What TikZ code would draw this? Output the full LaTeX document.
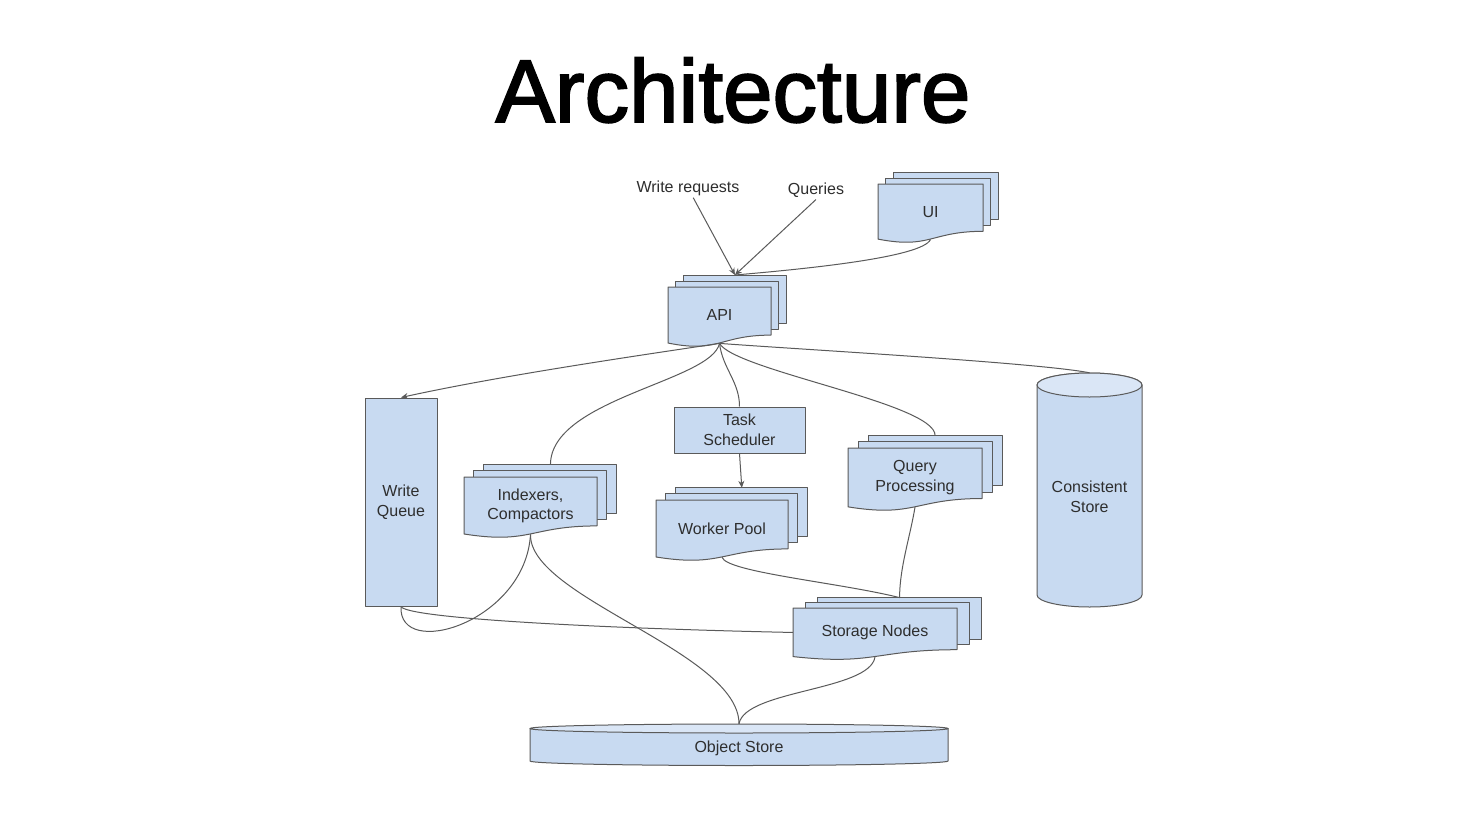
\documentclass[tikz,border=0pt]{standalone}
\usepackage{fontspec}
\setmainfont{Liberation Sans}
\newfontfamily\titlefont[FakeBold=2]{Liberation Sans}
\usetikzlibrary{arrows.meta,positioning,calc}
\definecolor{boxfill}{HTML}{C8DAF1}
\definecolor{capfill}{HTML}{DAE6F6}
\definecolor{edge}{HTML}{5A5A5A}
\definecolor{ink}{HTML}{2E2E2E}
\tikzset{shape line/.style={draw=edge,line width=1pt,line join=round},box text/.style={align=center,inner sep=0pt,text=ink,font=\fontsize{16}{19.5}\selectfont},box/.style={shape line,fill=boxfill,box text},label text/.style={text=ink,font=\fontsize{16}{19.5}\selectfont,inner sep=2pt},link/.style={draw=edge,line width=1pt},flow/.style={link,-{Stealth[length=7pt,width=6pt]}}}
% stacked documents: name, left, top, right, bottom, text
\newcommand\multidoc[6]{%
  \pgfmathsetmacro\mdW{#4-#2}\pgfmathsetmacro\mdH{#5-#3}%
  \pgfmathsetmacro\mdX{0.075*\mdW}\pgfmathsetmacro\mdY{0.1*\mdH}\pgfmathsetmacro\mdN{0.933*\mdH}%
  \foreach \k in {2,1}
    \draw[shape line,fill=boxfill] (#2+\k*\mdX,#3-\k*\mdY) rectangle (#4+\k*\mdX,#3+0.802*\mdH-\k*\mdY);
  \draw[shape line,fill=boxfill] (#2,#3) -- (#4,#3) -- (#4,#3+0.802*\mdH) .. controls (#2+0.5*\mdW,#3+0.802*\mdH) and (#2+0.5*\mdW,#3+1.107*\mdH) .. (#2,#3+0.934*\mdH) -- cycle;
  \node[box text,minimum width=\mdW pt,minimum height=\mdN pt,anchor=north] (#1) at (#2+0.5*\mdW,#3) {#6};
  \coordinate (#1-top) at (#2+0.5*\mdW+2*\mdX,#3-2*\mdY);
}
\begin{document}
\begin{tikzpicture}[x=1pt,y=-1pt]
\useasboundingbox[fill=white] (0,0) rectangle (1467,822);
\node[font=\titlefont\fontsize{89}{92}\selectfont,anchor=base] (title) at (733,122) {Architecture};
\node[label text] (wr) at (688,188) {Write requests};
\node[label text] (q) at (816,190) {Queries};
\multidoc{ui}{878}{184}{983}{243}{UI}
\multidoc{api}{668}{287}{771}{347}{API}
\multidoc{idx}{464}{477}{597}{538}{Indexers,\\Compactors}
\multidoc{wp}{656}{500}{788}{561}{Worker Pool}
\multidoc{qp}{848}{448}{982}{511}{Query\\Processing}
\multidoc{sn}{793}{608}{957}{660}{Storage Nodes}
\node[box,minimum width=72pt,minimum height=208pt] (wq) at (401,502) {Write\\Queue};
\node[box,minimum width=131pt,minimum height=46pt] (ts) at (739.5,430) {Task\\Scheduler};
% consistent store cylinder
\draw[shape line,fill=boxfill] (1037,385) -- (1037,595) .. controls (1037,601.6) and (1060.5,607) .. (1089.5,607) .. controls (1118.5,607) and (1142,601.6) .. (1142,595) -- (1142,385) .. controls (1142,378.4) and (1118.5,373) .. (1089.5,373) .. controls (1060.5,373) and (1037,378.4) .. (1037,385) -- cycle;
\draw[shape line,fill=capfill] (1089.5,385) ellipse [x radius=52.5,y radius=12];
\node[box text,minimum width=105pt,minimum height=248pt] (cs) at (1089.5,497) {Consistent\\Store};
% object store disc
\draw[shape line,fill=boxfill] (530,728.5) -- (530,761) .. controls (530,763.5) and (623.6,765.5) .. (739,765.5) .. controls (854.4,765.5) and (948,763.5) .. (948,761) -- (948,728.5) -- cycle;
\draw[shape line,fill=capfill] (739,728.5) ellipse [x radius=209,y radius=4.5];
\node[box text,minimum width=418pt,minimum height=48pt] (os) at (739,748) {Object Store};
% connectors
\draw[flow] (wr) -- (api-top);
\draw[flow] (q.south) -- (api-top);
\draw[link] (ui.south) .. controls +(-8,18) and +(70,-6) .. (api-top);
\draw[flow] (api.south) .. controls +(-80,12) and +(100,-22) .. (wq.north);
\draw[link] (api.south) .. controls +(-8,38) and +(0,-66) .. (idx-top);
\draw[link] (api.south) .. controls +(3,25) and +(0,-25) .. (ts.north);
\draw[link] (api.south) .. controls +(15,27) and +(0,-32) .. (qp-top);
\draw[link] (api.south) .. controls +(80,6) and +(-50,-10) .. (cs.north);
\draw[flow] (ts.south) -- (wp-top);
\draw[link] (qp.south) .. controls +(-5,30) and +(0,-30) .. (sn-top);
\draw[link] (wp.south) .. controls +(5,15) and +(-60,-15) .. (sn-top);
\draw[link] (wq.south) .. controls +(6,12) and +(-190,-4) .. (sn.west);
\draw[link] (idx.south) .. controls +(-5,88) and +(-3,54) .. (wq.south);
\draw[link] (idx.south) .. controls +(-2,63) and +(0,-72) .. (os.north);
\draw[link] (sn.south) .. controls +(-5,34) and +(6,-34) .. (os.north);
\end{tikzpicture}
\end{document}
